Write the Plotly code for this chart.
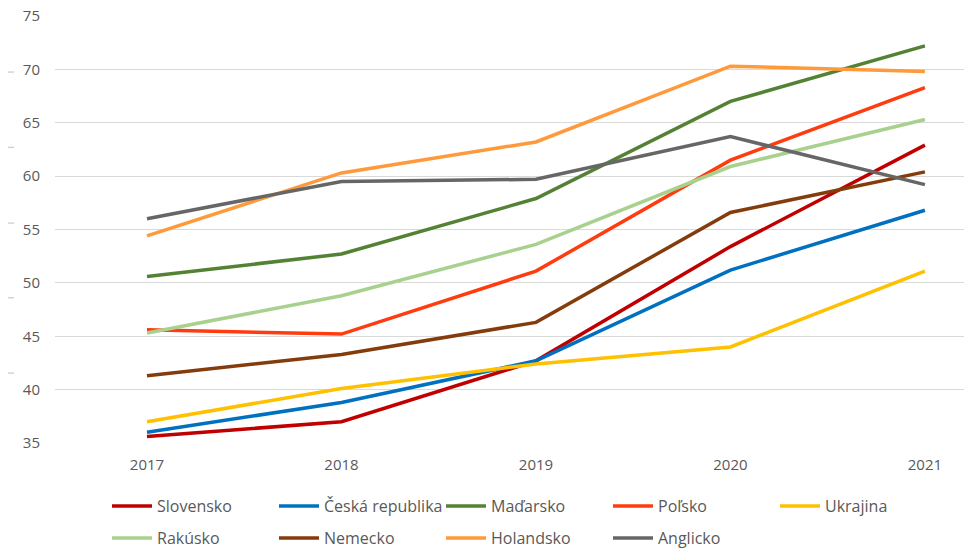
import plotly.graph_objects as go

YEARS = [2017, 2018, 2019, 2020, 2021]
COUNTRIES = ["Slovensko", "Česká republika", "Maďarsko", "Poľsko", "Ukrajina",
             "Rakúsko", "Nemecko", "Holandsko", "Anglicko"]
SLOVENSKO = [35.6, 37.0, 42.7, 53.4, 62.9]
CESKO = [36.0, 38.8, 42.7, 51.2, 56.8]
MADARSKO = [50.6, 52.7, 57.9, 67.0, 72.2]
POLSKO = [45.6, 45.2, 51.1, 61.5, 68.3]
UKRAJINA = [37.0, 40.1, 42.4, 44.0, 51.1]
RAKUSKO = [45.3, 48.8, 53.6, 60.9, 65.3]
NEMECKO = [41.3, 43.3, 46.3, 56.6, 60.4]
HOLANDSKO = [54.4, 60.3, 63.2, 70.3, 69.8]
ANGLICKO = [56.0, 59.5, 59.7, 63.7, 59.2]
SERIES = [SLOVENSKO, CESKO, MADARSKO, POLSKO, UKRAJINA,
          RAKUSKO, NEMECKO, HOLANDSKO, ANGLICKO]

COLORS = ["#C00000", "#0070C0", "#548235", "#FF3C0F", "#FFC000",
          "#A9D18E", "#843C0C", "#FF9A3C", "#666666"]
TEXT = "#595959"
GRID = "#D9D9D9"
FONT = "Open Sans"

# page body has an 8px margin, so the figure is 8px smaller than the window
W, H = 964, 540
L, T, B = 47, 8, 105
PW, PH = W - L, H - T - B

fig = go.Figure()
for i, (name, vals, col) in enumerate(zip(COUNTRIES, SERIES, COLORS)):
    # first five entries on legend row 1, the rest on row 2
    fig.add_scatter(x=YEARS, y=vals, name=name, mode="lines",
                    line=dict(color=col, width=3.5),
                    legend="legend" if i < 5 else "legend2")

# stray tick marks at the far left edge of the source image
for v in [69.75, 62.7, 55.6, 48.6, 41.55]:
    fig.add_shape(type="line", xref="paper", yref="y", x0=-L / PW,
                  x1=-(L - 6) / PW, y0=v, y1=v,
                  line=dict(color="#BFBFBF", width=1))

row = dict(orientation="h", x=(112 - 8 - L - 5) / PW, xanchor="left",
           yanchor="middle", entrywidth=112, entrywidthmode="pixels",
           font=dict(family=FONT, size=16, color=TEXT), itemwidth=40,
           bgcolor="rgba(0,0,0,0)")

fig.update_layout(
    width=W, height=H, plot_bgcolor="white", paper_bgcolor="white",
    margin=dict(l=L, r=0, t=T, b=B, autoexpand=False),
    font=dict(family=FONT, size=15, color=TEXT),
    xaxis=dict(range=[2016.527, 2021.242], tickvals=YEARS, showgrid=False,
               zeroline=False, showline=False, ticks="", automargin=False,
               ticklabelstandoff=11),
    yaxis=dict(range=[35, 75], dtick=5, gridcolor=GRID, gridwidth=1,
               zeroline=False, showline=False, ticks="", ticklabelstandoff=14,
               automargin=False, ticklabeloverflow="allow"),
    showlegend=True,
    legend=dict(row, y=-(506 - 443) / PH),
    legend2=dict(row, y=-(538 - 443) / PH),
)

fig.write_html("out.html")
